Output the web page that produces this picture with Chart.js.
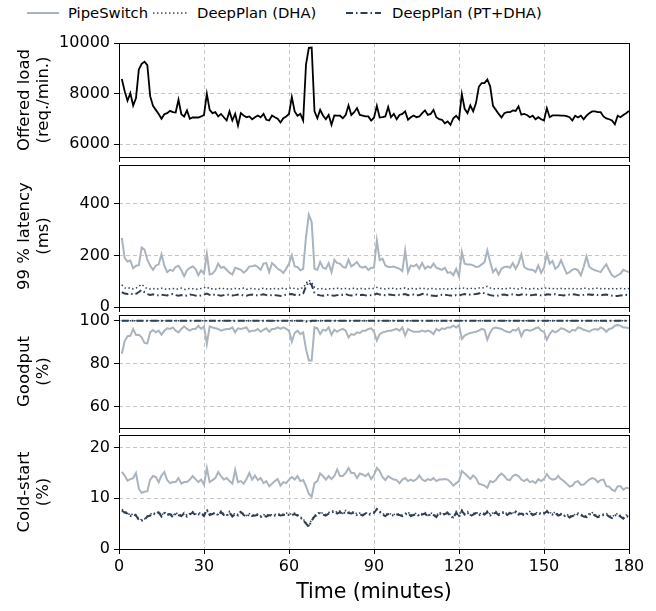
<!DOCTYPE html>
<html>
<head>
<meta charset="utf-8">
<script src="https://cdn.jsdelivr.net/npm/chart.js@4.4.0/dist/chart.umd.min.js"></script>
<style>
  body { margin: 0; background: #fff; }
  #fig { position: relative; width: 656px; height: 611px; background: #fff; font-family: 'DejaVu Sans', sans-serif; }
  #fig canvas { position: absolute; left: 0; }
  .lg-text { position: absolute; top: 3px; font-size: 14.8px; line-height: 20px; color: #000; white-space: nowrap; }
  .lg-line { position: absolute; top: 3px; }
</style>
</head>
<body>
<div id="fig">
  <svg class="lg-line" style="left:27px" width="33" height="20"><line x1="0" y1="10" x2="32" y2="10" stroke="#a9b4be" stroke-width="2"/></svg>
  <div class="lg-text" style="left:68px">PipeSwitch</div>
  <svg class="lg-line" style="left:153px" width="35" height="20"><line x1="0" y1="10" x2="34" y2="10" stroke="#34495e" stroke-width="1.5" stroke-dasharray="1.5,2.5"/></svg>
  <div class="lg-text" style="left:197px">DeepPlan (DHA)</div>
  <svg class="lg-line" style="left:346px" width="36" height="20"><line x1="0" y1="10" x2="35" y2="10" stroke="#2c3e50" stroke-width="2" stroke-dasharray="7,3,1.5,3"/></svg>
  <div class="lg-text" style="left:392px">DeepPlan (PT+DHA)</div>

  <canvas id="loadChart" width="656" height="143" style="top:31px"></canvas>
  <canvas id="latencyChart" width="656" height="171" style="top:153px"></canvas>
  <canvas id="goodputChart" width="656" height="142" style="top:303px"></canvas>
  <canvas id="coldChart" width="656" height="188" style="top:423px"></canvas>
</div>
<script>
// time axis (minutes) and tick positions
const minutes = Array.from({ length: 180 }, (_, i) => i + 1);
const timeTicks = [0, 30, 60, 90, 120, 150, 180];
const loadTicks = [6000, 8000, 10000];
const latencyTicks = [0, 200, 400];
const goodputTicks = [60, 80, 100];
const coldTicks = [0, 10, 20];

// offered load (req./min.)
const offeredLoad = [
  8580, 8100, 7720, 8020, 7530, 7830, 8950, 9180, 9260, 9130,
  7900, 7520, 7360, 7200, 7010, 7190, 7230, 7320, 7270, 7260,
  7760, 7190, 7100, 7340, 7010, 7060, 7060, 7060, 7100, 7160,
  7990, 7360, 7230, 7270, 7100, 7200, 7070, 6940, 7300, 6940,
  7200, 6740, 7230, 7140, 7070, 7100, 6990, 7070, 7140, 7070,
  7200, 6970, 6940, 7140, 7070, 7010, 6860, 7030, 7100, 7200,
  7870, 7300, 7130, 7200, 6940, 9150, 9810, 9820, 7300, 7030,
  7360, 7140, 6990, 7160, 6770, 7140, 7130, 7130, 7030, 7160,
  7540, 7160, 7270, 7430, 7160, 7130, 7100, 7100, 6940, 7050,
  7520, 7060, 7070, 7100, 7470, 7070, 7200, 6990, 7160, 7200,
  7300, 6970, 7070, 7140, 7070, 7100, 7230, 7340, 7160, 7200,
  7360, 7070, 6990, 6970, 6830, 6900, 6770, 7030, 7130, 6990,
  7990, 7400, 7230, 7540, 7300, 7630, 8270, 8420, 8420, 8560,
  8290, 7520, 7360, 7200, 7060, 7230, 7270, 7270, 7340, 7320,
  7500, 7170, 7200, 7160, 7070, 7130, 6990, 7070, 6990, 6940,
  7430, 7070, 7140, 7140, 7140, 7130, 7130, 7110, 7070, 6940,
  7130, 7060, 7130, 6990, 7130, 7230, 7300, 7300, 7270, 7270,
  7100, 7020, 6990, 6940, 6790, 7130, 7070, 7160, 7230, 7320
];

// 99 % latency (ms)
const latencyPipeSwitch = [
  268, 190, 176, 180, 150, 160, 162, 230, 222, 183,
  160, 144, 160, 165, 204, 160, 135, 144, 140, 155,
  160, 142, 119, 142, 152, 157, 148, 123, 142, 129,
  206, 126, 129, 142, 168, 152, 155, 144, 133, 126,
  152, 148, 144, 133, 142, 157, 158, 161, 155, 144,
  168, 170, 135, 170, 161, 148, 142, 132, 148, 168,
  200, 157, 155, 142, 148, 271, 357, 329, 148, 144,
  174, 152, 148, 170, 135, 183, 170, 168, 155, 152,
  183, 157, 165, 174, 157, 152, 157, 144, 152, 152,
  258, 181, 187, 161, 155, 155, 157, 152, 148, 139,
  219, 135, 161, 157, 165, 148, 170, 148, 157, 152,
  168, 152, 148, 144, 152, 132, 135, 123, 148, 119,
  213, 168, 165, 165, 161, 155, 157, 165, 174, 219,
  174, 135, 148, 126, 148, 155, 157, 152, 170, 148,
  168, 204, 155, 148, 144, 144, 135, 161, 132, 152,
  206, 168, 178, 148, 157, 181, 155, 129, 135, 144,
  148, 142, 123, 155, 196, 155, 148, 142, 139, 135,
  152, 165, 142, 123, 116, 123, 129, 144, 139, 135
];
const latencyDHA = [
  86, 74, 72, 75, 70, 73, 80, 88, 78, 71,
  70, 72, 69, 71, 73, 70, 68, 71, 72, 69,
  70, 73, 68, 70, 72, 71, 69, 70, 72, 74,
  78, 70, 71, 69, 73, 70, 72, 71, 69, 70,
  72, 71, 70, 73, 69, 71, 72, 70, 68, 71,
  73, 70, 71, 69, 72, 70, 71, 73, 70, 72,
  75, 71, 70, 72, 74, 92, 104, 95, 76, 71,
  70, 72, 69, 71, 70, 72, 73, 70, 71, 72,
  70, 71, 73, 70, 72, 71, 70, 72, 71, 72,
  76, 73, 71, 70, 72, 71, 73, 70, 71, 72,
  74, 70, 72, 71, 70, 73, 71, 72, 70, 71,
  72, 70, 71, 69, 72, 70, 71, 70, 72, 71,
  75, 72, 71, 73, 70, 72, 74, 73, 75, 80,
  74, 71, 70, 72, 71, 70, 72, 73, 71, 72,
  70, 74, 72, 71, 70, 72, 71, 70, 72, 71,
  75, 72, 71, 73, 70, 72, 71, 70, 72, 71,
  72, 70, 71, 73, 72, 70, 71, 72, 73, 71,
  72, 70, 71, 72, 70, 71, 72, 71, 70, 72
];
const latencyPTDHA = [
  58, 52, 50, 53, 48, 51, 58, 66, 57, 50,
  47, 49, 46, 45, 47, 46, 45, 48, 50, 46,
  44, 46, 43, 45, 48, 47, 44, 42, 45, 48,
  52, 47, 45, 50, 46, 44, 46, 48, 47, 45,
  46, 48, 47, 45, 44, 47, 48, 46, 45, 47,
  49, 46, 44, 47, 46, 45, 43, 46, 48, 49,
  50, 47, 48, 46, 52, 80, 97, 85, 55, 48,
  45, 44, 46, 47, 45, 44, 46, 48, 47, 50,
  46, 45, 47, 48, 46, 47, 45, 44, 46, 47,
  52, 48, 47, 46, 48, 47, 46, 45, 47, 48,
  50, 46, 47, 48, 45, 46, 50, 52, 47, 45,
  44, 43, 46, 47, 48, 46, 45, 43, 46, 44,
  48, 50, 47, 48, 49, 50, 52, 57, 53, 50,
  46, 44, 42, 45, 47, 48, 46, 47, 49, 48,
  46, 48, 50, 47, 45, 46, 48, 47, 45, 44,
  49, 48, 47, 50, 47, 46, 45, 47, 48, 50,
  48, 46, 45, 47, 49, 48, 47, 50, 46, 45,
  47, 48, 46, 44, 42, 43, 45, 46, 47, 46
];

// goodput (%)
const goodputPipeSwitch = [
  84.6, 90.5, 92.8, 93.0, 96.2, 93.4, 93.5, 92.3, 89.7, 89.5,
  94.6, 95.7, 94.6, 95.4, 93.5, 95.4, 96.5, 96.2, 96.9, 95.4,
  94.6, 96.2, 97.4, 96.2, 95.4, 96.2, 96.2, 97.7, 96.2, 97.4,
  89.2, 97.4, 96.9, 96.5, 96.2, 95.4, 95.8, 96.2, 96.2, 96.9,
  94.6, 96.5, 96.2, 96.5, 96.9, 94.9, 95.4, 95.4, 96.2, 94.9,
  95.8, 96.5, 94.9, 96.2, 96.2, 96.9, 96.2, 96.9, 96.2, 95.4,
  90.3, 94.3, 95.4, 93.8, 94.6, 86.9, 81.5, 81.5, 96.9, 96.5,
  93.8, 95.8, 95.4, 96.9, 93.4, 95.8, 94.9, 95.8, 96.2, 95.4,
  92.3, 93.8, 93.4, 94.6, 94.3, 95.4, 95.4, 96.2, 96.5, 94.9,
  90.8, 93.8, 94.6, 94.9, 95.4, 95.4, 95.8, 96.2, 95.4, 96.9,
  93.1, 96.2, 95.4, 94.9, 94.9, 94.9, 95.4, 94.9, 95.4, 94.9,
  93.8, 96.2, 95.4, 96.5, 96.2, 96.9, 96.9, 97.7, 96.9, 98.0,
  91.5, 93.1, 93.8, 94.3, 94.6, 94.9, 95.4, 96.2, 95.8, 91.2,
  94.6, 96.5, 96.9, 96.5, 96.2, 95.4, 94.9, 94.6, 95.8, 95.4,
  96.5, 92.8, 95.4, 95.8, 95.4, 95.8, 96.5, 96.9, 95.4, 94.9,
  91.2, 93.8, 95.4, 94.6, 95.4, 96.5, 96.2, 95.4, 94.6, 95.8,
  95.4, 96.9, 96.5, 95.8, 95.4, 94.9, 95.8, 96.2, 95.8, 96.9,
  96.2, 94.9, 96.2, 96.5, 97.7, 98.0, 97.7, 96.9, 96.9, 96.5
];
const goodputDHA = [
  100, 100, 100, 100, 100, 100, 100, 100, 100, 100,
  100, 100, 100, 100, 100, 100, 100, 100, 100, 100,
  100, 100, 100, 100, 100, 100, 100, 100, 100, 100,
  100, 100, 100, 100, 100, 100, 100, 100, 100, 100,
  100, 100, 100, 100, 100, 100, 100, 100, 100, 100,
  100, 100, 100, 100, 100, 100, 100, 100, 100, 100,
  100, 100, 100, 100, 100, 100, 99.6, 100, 100, 100,
  100, 100, 100, 100, 100, 100, 100, 100, 100, 100,
  100, 100, 100, 100, 100, 100, 100, 100, 100, 100,
  100, 100, 100, 100, 100, 100, 100, 100, 100, 100,
  100, 100, 100, 100, 100, 100, 100, 100, 100, 100,
  100, 100, 100, 100, 100, 100, 100, 100, 100, 100,
  100, 100, 100, 100, 100, 100, 100, 100, 100, 100,
  100, 100, 100, 100, 100, 100, 100, 100, 100, 100,
  100, 100, 100, 100, 100, 100, 100, 100, 100, 100,
  100, 100, 100, 100, 100, 100, 100, 100, 100, 100,
  100, 100, 100, 100, 100, 100, 100, 100, 100, 100,
  100, 100, 100, 100, 100, 100, 100, 100, 100, 100
];
const goodputPTDHA = [
  100, 100, 100, 100, 100, 100, 100, 100, 100, 100,
  100, 100, 100, 100, 100, 100, 100, 100, 100, 100,
  100, 100, 100, 100, 100, 100, 100, 100, 100, 100,
  100, 100, 100, 100, 100, 100, 100, 100, 100, 100,
  100, 100, 100, 100, 100, 100, 100, 100, 100, 100,
  100, 100, 100, 100, 100, 100, 100, 100, 100, 100,
  100, 100, 100, 100, 100, 99.7, 99.4, 100, 100, 100,
  100, 100, 100, 100, 100, 100, 100, 100, 100, 100,
  100, 100, 100, 100, 100, 100, 100, 100, 100, 100,
  100, 100, 100, 100, 100, 100, 100, 100, 100, 100,
  100, 100, 100, 100, 100, 100, 100, 100, 100, 100,
  100, 100, 100, 100, 100, 100, 100, 100, 100, 100,
  100, 100, 100, 100, 100, 100, 100, 100, 100, 100,
  100, 100, 100, 100, 100, 100, 100, 100, 100, 100,
  100, 100, 100, 100, 100, 100, 100, 100, 100, 100,
  100, 100, 100, 100, 100, 100, 100, 100, 100, 100,
  100, 100, 100, 100, 100, 100, 100, 100, 100, 100,
  100, 100, 100, 100, 100, 100, 100, 100, 100, 100
];

// cold-start (%)
const coldPipeSwitch = [
  15.2, 14.5, 13.5, 13.8, 14.0, 15.0, 11.9, 11.1, 11.3, 11.4,
  13.7, 14.4, 14.2, 13.2, 14.5, 15.2, 13.6, 13.0, 13.2, 13.2,
  14.0, 12.9, 13.2, 13.2, 13.7, 14.4, 13.8, 13.2, 13.7, 12.7,
  16.0, 13.2, 13.6, 14.0, 15.2, 14.4, 13.7, 14.0, 13.4, 12.9,
  15.6, 13.2, 13.4, 12.9, 13.8, 15.0, 13.7, 14.5, 13.6, 14.0,
  13.0, 13.4, 12.4, 12.9, 13.4, 13.8, 12.5, 13.2, 13.0, 13.7,
  14.2, 13.7, 14.4, 13.4, 13.6, 12.4, 10.9, 10.3, 13.0, 13.4,
  14.9, 14.4, 13.7, 14.4, 13.8, 14.4, 15.7, 14.4, 14.4, 15.0,
  16.0, 15.0, 15.0, 14.0, 14.9, 14.7, 14.4, 14.9, 13.8, 14.6,
  16.0, 15.4, 14.2, 13.6, 14.4, 14.0, 13.7, 13.6, 13.0, 13.7,
  14.0, 13.4, 13.7, 13.4, 13.8, 14.5, 13.7, 13.4, 13.8, 13.6,
  14.0, 13.4, 13.7, 13.7, 13.8, 13.7, 13.2, 12.5, 13.0, 13.4,
  15.4, 14.9, 14.4, 13.8, 14.5, 14.0, 12.9, 12.7, 12.5, 12.1,
  13.4, 13.2, 13.6, 14.4, 14.9, 14.4, 13.7, 13.6, 14.4, 14.7,
  14.4, 13.7, 13.4, 13.8, 13.2, 13.4, 13.0, 13.8, 13.4, 13.8,
  14.8, 14.0, 13.7, 13.8, 14.4, 13.8, 13.4, 12.9, 12.3, 12.5,
  13.2, 13.4, 12.7, 12.7, 13.2, 13.7, 14.0, 13.8, 13.2, 13.6,
  13.7, 12.4, 12.3, 11.7, 11.4, 12.4, 12.4, 11.7, 12.1, 12.0
];
const coldDHA = [
  7.8, 7.4, 7.2, 6.6, 7.0, 6.8, 5.9, 5.8, 5.9, 6.5,
  6.8, 7.2, 6.9, 7.4, 6.6, 7.3, 6.8, 7.1, 6.5, 7.2,
  6.8, 6.7, 7.2, 6.6, 7.0, 7.4, 6.9, 7.0, 7.2, 6.7,
  7.6, 6.9, 7.1, 7.0, 6.8, 7.5, 6.9, 6.7, 7.4, 6.6,
  7.1, 6.8, 7.5, 6.9, 6.6, 7.0, 6.7, 6.8, 6.9, 6.5,
  6.8, 6.6, 6.9, 6.7, 6.8, 7.0, 6.8, 6.9, 7.1, 6.9,
  6.9, 7.1, 6.8, 6.4, 5.9, 5.2, 4.6, 5.8, 6.6, 7.0,
  7.3, 7.0, 6.8, 7.2, 7.4, 7.6, 7.2, 7.5, 7.0, 7.6,
  7.3, 7.2, 7.4, 6.9, 7.1, 6.8, 7.2, 6.9, 7.1, 7.3,
  7.8, 7.5, 7.0, 6.7, 7.1, 6.9, 6.8, 7.0, 6.9, 6.7,
  7.0, 7.3, 6.7, 6.9, 7.1, 6.6, 7.0, 7.2, 6.6, 7.1,
  6.9, 6.5, 7.3, 6.8, 7.1, 7.3, 6.7, 6.2, 7.4, 6.5,
  7.7, 7.0, 7.4, 6.7, 7.0, 7.3, 6.8, 7.2, 7.0, 7.5,
  6.8, 7.1, 7.4, 6.9, 7.2, 7.4, 6.9, 7.3, 7.1, 7.5,
  7.0, 7.2, 6.8, 7.1, 7.4, 6.9, 7.1, 7.3, 7.0, 7.2,
  7.6, 7.2, 7.0, 7.3, 6.8, 7.0, 6.6, 6.9, 6.4, 6.7,
  6.8, 7.1, 6.9, 6.6, 6.5, 7.0, 7.2, 6.8, 6.5, 6.7,
  6.9, 7.0, 6.6, 6.3, 6.8, 7.0, 6.6, 6.2, 6.7, 6.5
];
const coldPTDHA = [
  7.6, 7.2, 7.0, 6.5, 6.8, 6.6, 5.7, 5.6, 5.8, 6.4,
  6.6, 7.0, 6.8, 7.2, 6.4, 7.1, 6.7, 6.9, 6.3, 7.0,
  6.7, 6.5, 7.0, 6.4, 6.8, 7.2, 6.7, 6.8, 7.0, 6.5,
  7.8, 6.7, 6.9, 7.2, 6.6, 7.3, 6.7, 6.5, 7.2, 6.4,
  6.9, 6.6, 7.3, 6.7, 6.4, 6.8, 6.5, 6.6, 6.7, 6.3,
  6.6, 6.4, 6.7, 6.5, 6.6, 6.8, 6.6, 6.7, 6.9, 6.7,
  6.7, 6.9, 6.6, 6.2, 5.7, 5.0, 4.4, 5.6, 6.4, 6.8,
  7.1, 6.8, 6.6, 7.0, 7.2, 7.4, 7.0, 7.3, 6.8, 7.4,
  7.1, 7.0, 7.2, 6.7, 6.9, 6.6, 7.0, 6.7, 6.9, 7.1,
  7.9, 7.3, 6.8, 6.5, 6.9, 6.7, 6.6, 6.8, 6.7, 6.5,
  6.8, 7.1, 6.5, 6.7, 6.9, 6.4, 6.8, 7.0, 6.4, 6.9,
  6.7, 6.3, 7.1, 6.6, 6.9, 7.1, 6.5, 6.1, 7.2, 6.3,
  7.5, 6.8, 7.2, 6.5, 6.8, 7.1, 6.6, 7.0, 6.8, 7.3,
  6.6, 6.9, 7.2, 6.7, 7.0, 7.2, 6.7, 7.1, 6.9, 7.3,
  6.8, 7.0, 6.6, 6.9, 7.2, 6.7, 6.9, 7.1, 6.8, 7.0,
  7.4, 7.0, 6.8, 7.1, 6.6, 6.8, 6.4, 6.7, 6.2, 6.5,
  6.6, 6.9, 6.7, 6.4, 6.3, 6.8, 7.0, 6.6, 6.3, 6.5,
  6.7, 6.8, 6.4, 6.1, 6.6, 6.8, 6.4, 6.0, 6.5, 6.3
];

Chart.defaults.font.family = "'DejaVu Sans', sans-serif";
Chart.defaults.color = '#000';

const GRAY = '#a9b4be';
const NAVY_DOT = '#34495e';
const NAVY = '#2c3e50';

// black box around each panel
const framePlugin = {
  id: 'frame',
  afterDraw(chart) {
    const { ctx, chartArea } = chart;
    ctx.save();
    ctx.strokeStyle = '#000';
    ctx.lineWidth = 1;
    ctx.strokeRect(Math.round(chartArea.left) + 0.5, Math.round(chartArea.top) + 0.5,
      Math.round(chartArea.right - chartArea.left), Math.round(chartArea.bottom - chartArea.top));
    ctx.restore();
  }
};

function lineSet(label, values, color, width, dash) {
  return { label: label, data: values, borderColor: color, borderWidth: width, borderDash: dash, fill: false };
}

function gridOpts() {
  return { color: '#c6c6c6', lineWidth: 1, tickColor: '#000', tickLength: 5, tickWidth: 1 };
}

function renderPanel(canvasId, datasets, yMin, yMax, yTicks, yTitle, bottom) {
  const ctx = document.getElementById(canvasId).getContext('2d');
  return new Chart(ctx, {
    type: 'line',
    data: { labels: minutes, datasets: datasets },
    options: {
      responsive: false,
      animation: false,
      events: [],
      layout: { padding: { left: 15, right: 27, top: 12, bottom: bottom ? 0 : 12 } },
      elements: { point: { radius: 0 }, line: { tension: 0 } },
      plugins: { legend: { display: false }, tooltip: { enabled: false } },
      scales: {
        x: {
          type: 'linear',
          min: 0,
          max: 180,
          afterBuildTicks: s => { s.ticks = timeTicks.map(v => ({ value: v })); },
          afterFit: s => { s.height = bottom ? 62 : 5; s.paddingLeft = 0; s.paddingRight = 0; },
          grid: gridOpts(),
          border: { display: false, dash: [4, 3] },
          ticks: { display: bottom, padding: 3, maxRotation: 0, font: { size: 16 }, callback: v => String(v) },
          title: { display: bottom, text: 'Time (minutes)', font: { size: 20.5 }, padding: { top: 0, bottom: 6 } }
        },
        y: {
          min: yMin,
          max: yMax,
          afterBuildTicks: s => { s.ticks = yTicks.map(v => ({ value: v })); },
          afterFit: s => { s.width = 104; s.paddingTop = 0; s.paddingBottom = 0; },
          grid: gridOpts(),
          border: { display: false, dash: [4, 3] },
          ticks: { padding: 4, font: { size: 16 }, callback: v => String(v) },
          title: { display: true, text: yTitle, font: { size: 16.5, lineHeight: 1.15 }, padding: 0 }
        }
      }
    },
    plugins: [framePlugin]
  });
}

renderPanel('loadChart', [
  lineSet('Offered load', offeredLoad, '#000', 1.8, [])
], 5500, 10000, loadTicks, ['Offered load', '(req./min.)'], false);

renderPanel('latencyChart', [
  lineSet('PipeSwitch', latencyPipeSwitch, GRAY, 2, []),
  lineSet('DeepPlan (DHA)', latencyDHA, NAVY_DOT, 1.5, [1.5, 2.5]),
  lineSet('DeepPlan (PT+DHA)', latencyPTDHA, NAVY, 2, [7, 3, 1.5, 3])
], 0, 550, latencyTicks, ['99 % latency', '(ms)'], false);

renderPanel('goodputChart', [
  lineSet('PipeSwitch', goodputPipeSwitch, GRAY, 2, []),
  lineSet('DeepPlan (DHA)', goodputDHA, NAVY_DOT, 1.5, [1.5, 2.5]),
  lineSet('DeepPlan (PT+DHA)', goodputPTDHA, NAVY, 2, [7, 3, 1.5, 3])
], 50, 102.7, goodputTicks, ['Goodput', '(%)'], false);

renderPanel('coldChart', [
  lineSet('PipeSwitch', coldPipeSwitch, GRAY, 2, []),
  lineSet('DeepPlan (DHA)', coldDHA, NAVY_DOT, 1.5, [1.5, 2.5]),
  lineSet('DeepPlan (PT+DHA)', coldPTDHA, NAVY, 2, [7, 3, 1.5, 3])
], 0, 22.5, coldTicks, ['Cold-start', '(%)'], true);
</script>
</body>
</html>
